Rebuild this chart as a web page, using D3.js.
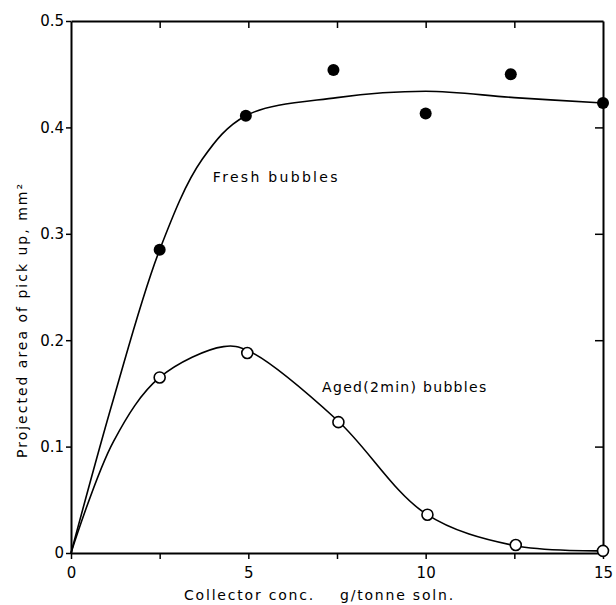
<!DOCTYPE html>
<html>
<head>
<meta charset="utf-8">
<script src="https://cdn.jsdelivr.net/npm/d3@7"></script>
<style>
  body { margin: 0; background: #fff; }
  text { font-family: "DejaVu Sans", sans-serif; fill: #000; }
</style>
</head>
<body>
<svg id="chart" width="616" height="605"></svg>
<script>
"use strict";

// measured points
var conc = [2.5, 4.93, 7.4, 10.0, 12.4, 15];
var fresh = [0.285, 0.411, 0.454, 0.413, 0.450, 0.423];
var agedConc = [2.5, 4.97, 7.54, 10.05, 12.54, 15];
var aged = [0.165, 0.188, 0.123, 0.036, 0.0075, 0.002];

// smooth curves drawn through the data
var freshCurveX = [0, 1.2, 2.5, 3.7, 4.93, 7.5, 10, 12.5, 15];
var freshCurveY = [0, 0.145, 0.285, 0.37, 0.411, 0.428, 0.434, 0.428, 0.423];
var agedCurveX = [0, 1.2, 2.5, 4.3, 5, 7.5, 10, 12.5, 15];
var agedCurveY = [0, 0.105, 0.165, 0.194, 0.19, 0.125, 0.037, 0.007, 0.002];

var xTicks = [0, 5, 10, 15];
var xMinor = [0, 2.5, 5, 7.5, 10, 12.5, 15];
var yTicks = [0, 0.1, 0.2, 0.3, 0.4, 0.5];

var svg = d3.select("#chart");
var margin = {left: 71, right: 13, top: 21, bottom: 52};
var width = 616 - margin.left - margin.right,
    height = 605 - margin.top - margin.bottom;

var x = d3.scaleLinear().domain([0, 15]).range([margin.left, margin.left + width]);
var y = d3.scaleLinear().domain([0, 0.5]).range([margin.top + height, margin.top]);

var fmtY = function(d) { return d === 0 ? "0" : d3.format(".1f")(d); };

// left axis: outward ticks
svg.append("g")
	.attr("transform", "translate(" + x(0) + ",0)")
	.call(d3.axisLeft(y).tickValues(yTicks).tickSize(5).tickSizeOuter(0).tickPadding(2).tickFormat(fmtY))
	.call(function(g) {
		g.select(".domain").attr("stroke-width", 2);
		g.selectAll(".tick line").attr("stroke-width", 1.5);
		g.selectAll("text").style("font-size", "15px").attr("fill", "#000");
	});

// bottom axis
svg.append("g")
	.attr("transform", "translate(0," + y(0) + ")")
	.call(d3.axisBottom(x).tickValues(xMinor).tickSize(6).tickSizeOuter(0).tickFormat(""))
	.call(function(g) {
		g.select(".domain").attr("stroke-width", 2);
		g.selectAll(".tick line").attr("stroke-width", 1.5);
	});
svg.append("g")
	.attr("transform", "translate(0," + y(0) + ")")
	.call(d3.axisBottom(x).tickValues(xTicks).tickSize(0).tickPadding(14).tickFormat(d3.format("d")))
	.call(function(g) {
		g.select(".domain").remove();
		g.selectAll("text").style("font-size", "15px").attr("fill", "#000");
	});

// top axis: inward ticks
svg.append("g")
	.attr("transform", "translate(0," + y(0.5) + ")")
	.call(d3.axisBottom(x).tickValues(xMinor.slice(1, -1)).tickSize(7).tickSizeOuter(0).tickFormat(""))
	.call(function(g) {
		g.select(".domain").attr("stroke-width", 2);
		g.selectAll(".tick line").attr("stroke-width", 1.5);
	});

// right axis: inward ticks
svg.append("g")
	.attr("transform", "translate(" + x(15) + ",0)")
	.call(d3.axisLeft(y).tickValues(yTicks.slice(1, -1)).tickSize(8).tickSizeOuter(0).tickFormat(""))
	.call(function(g) {
		g.select(".domain").attr("stroke-width", 2);
		g.selectAll(".tick line").attr("stroke-width", 1.5);
	});

// curves
var line = d3.line()
	.x(function(d) { return x(d[0]); })
	.y(function(d) { return y(d[1]); })
	.curve(d3.curveCatmullRom.alpha(0.5));

svg.append("path")
	.datum(d3.zip(freshCurveX, freshCurveY))
	.attr("d", line)
	.attr("fill", "none")
	.attr("stroke", "#000")
	.attr("stroke-width", 1.6);

svg.append("path")
	.datum(d3.zip(agedCurveX, agedCurveY))
	.attr("d", line)
	.attr("fill", "none")
	.attr("stroke", "#000")
	.attr("stroke-width", 1.6);

// markers
svg.selectAll(".fresh").data(d3.zip(conc, fresh))
	.enter().append("circle")
	.attr("class", "fresh")
	.attr("cx", function(d) { return x(d[0]); })
	.attr("cy", function(d) { return y(d[1]); })
	.attr("r", 6)
	.attr("fill", "#000");

svg.selectAll(".aged").data(d3.zip(agedConc, aged))
	.enter().append("circle")
	.attr("class", "aged")
	.attr("cx", function(d) { return x(d[0]); })
	.attr("cy", function(d) { return y(d[1]); })
	.attr("r", 5.5)
	.attr("fill", "#fff")
	.attr("stroke", "#000")
	.attr("stroke-width", 1.6);

// series labels
svg.append("text")
	.attr("x", x(4.0)).attr("y", y(0.349))
	.style("font-size", "14px").style("letter-spacing", "2.3px")
	.text("Fresh bubbles");
svg.append("text")
	.attr("x", x(7.08)).attr("y", y(0.151))
	.style("font-size", "14px").style("letter-spacing", "1.3px")
	.text("Aged(2min) bubbles");

// axis titles
svg.append("text")
	.attr("x", 184).attr("y", 600)
	.style("font-size", "14px").style("letter-spacing", "1.8px")
	.attr("xml:space", "preserve")
	.text("Collector conc.    g/tonne soln.");

svg.append("text")
	.attr("transform", "translate(27," + 320 + ")rotate(-90)")
	.attr("text-anchor", "middle")
	.style("font-size", "14px").style("letter-spacing", "2px")
	.text("Projected area of pick up, mm²");
</script>
</body>
</html>
